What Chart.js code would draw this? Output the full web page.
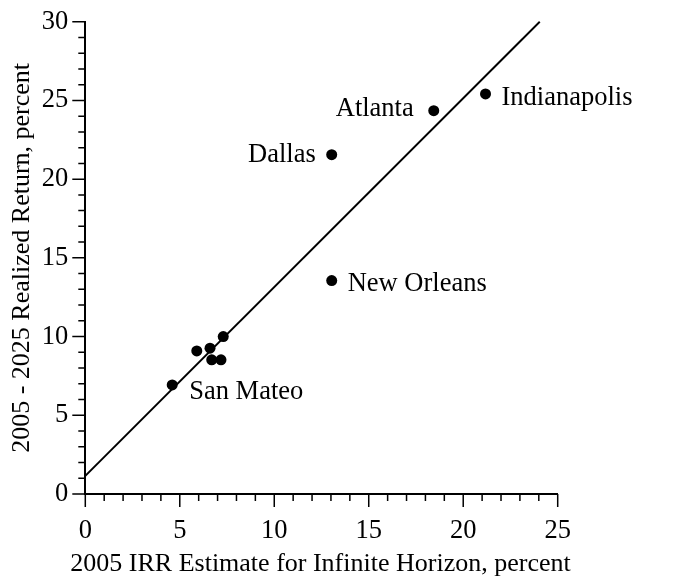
<!DOCTYPE html>
<html>
<head>
<meta charset="utf-8">
<script src="https://cdn.jsdelivr.net/npm/chart.js@4.4.0/dist/chart.umd.min.js"></script>
<style>
  html, body { margin: 0; padding: 0; background: #fff; }
  #wrap { width: 687px; height: 584px; }
</style>
</head>
<body>
<div id="wrap"><canvas id="c" width="687" height="584"></canvas></div>
<script>
// ---- Data ----
const pointNames = ["Indianapolis", "Atlanta", "Dallas", "New Orleans", "San Mateo", "", "", "", "", ""];
const irrEstimate = [21.18, 18.44, 13.04, 13.04, 4.60, 7.30, 5.90, 6.60, 6.69, 7.18];
const realizedReturn = [25.41, 24.35, 21.55, 13.56, 6.93, 10.0, 9.09, 9.26, 8.52, 8.52];
const fitLineX = [0, 24.05];
const fitLineY = [1.15, 30];
const xTickRange = [0, 25];
const yTickRange = [0, 30];
const xTitle = "2005 IRR Estimate for Infinite Horizon, percent";
const yTitle = "2005 - 2025 Realized Return, percent";

// ---- Label placement (styling, not data) ----
const labelPlacement = {
  "Indianapolis": { align: "left", dx: 16, dy: 2.4 },
  "Atlanta": { align: "right", dx: -20, dy: -3.7 },
  "Dallas": { align: "right", dx: -16, dy: -1.3 },
  "New Orleans": { align: "left", dx: 16, dy: 2 },
  "San Mateo": { align: "left", dx: 17, dy: 5.5 }
};

const FONT = "'Liberation Serif', 'Times New Roman', serif";
const LABEL_SIZE = 26.5;
const TITLE_SIZE = 26;

const scatterData = irrEstimate.map((x, i) => ({ x: x, y: realizedReturn[i] }));
const lineData = fitLineX.map((x, i) => ({ x: x, y: fitLineY[i] }));

const minorTicksPlugin = {
  id: 'minorTicks',
  afterDraw(chart) {
    const ctx = chart.ctx;
    const xs = chart.scales.x, ys = chart.scales.y;
    const area = chart.chartArea;
    ctx.save();
    ctx.strokeStyle = '#000';
    ctx.lineWidth = 1.5;
    ctx.beginPath();
    for (let v = xTickRange[0]; v <= xTickRange[1]; v++) {
      const px = xs.getPixelForValue(v);
      const len = (v % 5 === 0) ? 13 : 7;
      ctx.moveTo(px, area.bottom);
      ctx.lineTo(px, area.bottom + len);
    }
    for (let v = yTickRange[0]; v <= yTickRange[1]; v++) {
      const py = ys.getPixelForValue(v);
      const len = (v % 5 === 0) ? 13 : 7;
      ctx.moveTo(area.left, py);
      ctx.lineTo(area.left - len, py);
    }
    ctx.stroke();
    // x-axis title (drawn without width compression)
    ctx.fillStyle = '#000';
    ctx.font = TITLE_SIZE + "px " + FONT;
    ctx.textAlign = 'center';
    ctx.textBaseline = 'alphabetic';
    ctx.fillText(xTitle, (area.left + area.right) / 2 - 1, area.bottom + 76.7);
    ctx.restore();
  }
};

const labelPlugin = {
  id: 'pointLabels',
  afterDatasetsDraw(chart) {
    const ctx = chart.ctx;
    const xs = chart.scales.x, ys = chart.scales.y;
    ctx.save();
    ctx.fillStyle = '#000';
    ctx.font = LABEL_SIZE + "px " + FONT;
    ctx.textBaseline = 'alphabetic';
    pointNames.forEach((name, i) => {
      if (!name) return;
      const p = labelPlacement[name];
      const px = xs.getPixelForValue(irrEstimate[i]);
      const py = ys.getPixelForValue(realizedReturn[i]);
      ctx.textAlign = p.align;
      ctx.fillText(name, px + p.dx, py + p.dy + LABEL_SIZE * 0.33);
    });
    ctx.restore();
  }
};

new Chart(document.getElementById('c'), {
  type: 'scatter',
  data: {
    datasets: [
      {
        type: 'line',
        data: lineData,
        borderColor: '#000',
        borderWidth: 2,
        pointRadius: 0,
        fill: false,
        tension: 0,
        clip: false
      },
      {
        data: scatterData,
        backgroundColor: '#000',
        borderColor: '#000',
        pointRadius: 5.5,
        pointHoverRadius: 5.5,
        borderWidth: 0
      }
    ]
  },
  options: {
    responsive: false,
    animation: false,
    devicePixelRatio: 1,
    layout: { padding: { top: 21.7, right: 129.3, left: 0, bottom: 0 } },
    plugins: { legend: { display: false }, tooltip: { enabled: false } },
    scales: {
      x: {
        type: 'linear',
        min: xTickRange[0], max: xTickRange[1],
        grid: { display: false },
        border: { display: true, color: '#000', width: 2 },
        ticks: { stepSize: 5, color: '#000', padding: 13, font: { family: FONT, size: 26.5 } },
        title: { display: false, text: xTitle },
        afterFit(scale) {
          scale.height = 90;
          scale.paddingLeft = 0; scale.paddingRight = 0;
        }
      },
      y: {
        type: 'linear',
        min: yTickRange[0], max: yTickRange[1],
        grid: { display: false },
        border: { display: true, color: '#000', width: 2 },
        ticks: { stepSize: 5, color: '#000', padding: 9, font: { family: FONT, size: 26.5 } },
        title: { display: true, text: yTitle, color: '#000', font: { family: FONT, size: TITLE_SIZE }, padding: { top: 6.4, bottom: 0 } },
        afterFit(scale) {
          scale.width = 85.3;
          scale.paddingTop = 0; scale.paddingBottom = 0;
        }
      }
    }
  },
  plugins: [minorTicksPlugin, labelPlugin]
});
</script>
</body>
</html>
